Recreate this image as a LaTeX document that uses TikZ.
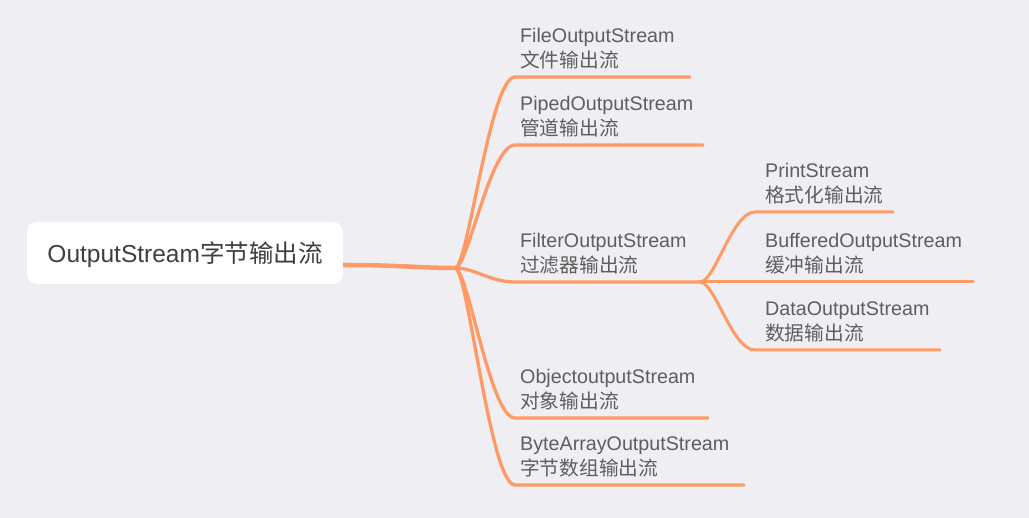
\documentclass[tikz,border=0pt]{standalone}
\usepackage{fontspec}
\setmainfont{Liberation Sans}
\newfontfamily\cjk{Noto Sans CJK SC}
\definecolor{bg}{HTML}{EFEEF3}
\definecolor{br}{HTML}{FF9966}
\definecolor{txt}{HTML}{5E5E5E}
\definecolor{roottxt}{HTML}{3F3F3F}
\begin{document}
\begin{tikzpicture}[x=1pt,y=-1pt,
  lbl/.style={anchor=base west, inner sep=0pt, text=txt, font=\fontsize{19.7}{23}\selectfont},
  branch/.style={draw=br, line width=3.3pt, line cap=round},
  subbranch/.style={draw=br, line width=3pt, line cap=round},
  rootbox/.style={fill=white, rounded corners=10pt, minimum width=316pt, minimum height=62pt,
    inner sep=0pt, text=roottxt, font=\fontsize{24.5}{28}\selectfont, text height=25pt, text depth=5pt}
]
\fill[bg] (0,0) rectangle (1029,518);
\useasboundingbox (0,0) rectangle (1029,518);

\node[rootbox] (root) at (185,253) {OutputStream\cjk{字节输出流}};

\coordinate (hub) at (455,268);
\coordinate (sub) at (700,282);

% root connector
\draw[draw=br, line width=4.5pt, line cap=butt] ([yshift=-12pt]root.east) .. controls (400,265) and (420,268) .. (hub);

% level 1 end points
\coordinate (fileE) at (690,77);
\coordinate (pipedE) at (703,145);
\coordinate (objE) at (708,418);
\coordinate (byteE) at (744,485);

\draw[branch] (hub) .. controls (468,268) and (490,77) .. (515,77) -- (fileE);
\draw[branch] (hub) .. controls (468,268) and (490,145) .. (515,145) -- (pipedE);
\draw[branch] (hub) .. controls (475,268) and (490,282) .. (515,282) -- (sub);
\draw[branch] (hub) .. controls (468,268) and (490,418) .. (515,418) -- (objE);
\draw[branch] (hub) .. controls (468,268) and (490,485) .. (515,485) -- (byteE);

% level 2
\coordinate (printE) at (893,212);
\coordinate (bufE) at (973,282);
\coordinate (dataE) at (940,350);
\draw[subbranch] (sub) .. controls (715,282) and (732,212) .. (755,212) -- (printE);
\draw[subbranch] (sub) -- (bufE);
\draw[subbranch] (sub) .. controls (715,282) and (732,350) .. (755,350) -- (dataE);

% labels level 1
\node[lbl] (fileN) at (520,43) {FileOutputStream};
\node[lbl] (fileC) at (520,68) {\cjk{文件输出流}};
\node[lbl] (pipedN) at (520,111) {PipedOutputStream};
\node[lbl] (pipedC) at (520,136) {\cjk{管道输出流}};
\node[lbl] (filterN) at (520,248) {FilterOutputStream};
\node[lbl] (filterC) at (520,273) {\cjk{过滤器输出流}};
\node[lbl] (objN) at (520,384) {ObjectoutputStream};
\node[lbl] (objC) at (520,409) {\cjk{对象输出流}};
\node[lbl] (byteN) at (520,451) {ByteArrayOutputStream};
\node[lbl] (byteC) at (520,476) {\cjk{字节数组输出流}};

% labels level 2
\node[lbl] (printN) at (765,178) {PrintStream};
\node[lbl] (printC) at (765,203) {\cjk{格式化输出流}};
\node[lbl] (bufN) at (765,248) {BufferedOutputStream};
\node[lbl] (bufC) at (765,273) {\cjk{缓冲输出流}};
\node[lbl] (dataN) at (765,316) {DataOutputStream};
\node[lbl] (dataC) at (765,341) {\cjk{数据输出流}};
\end{tikzpicture}
\end{document}
